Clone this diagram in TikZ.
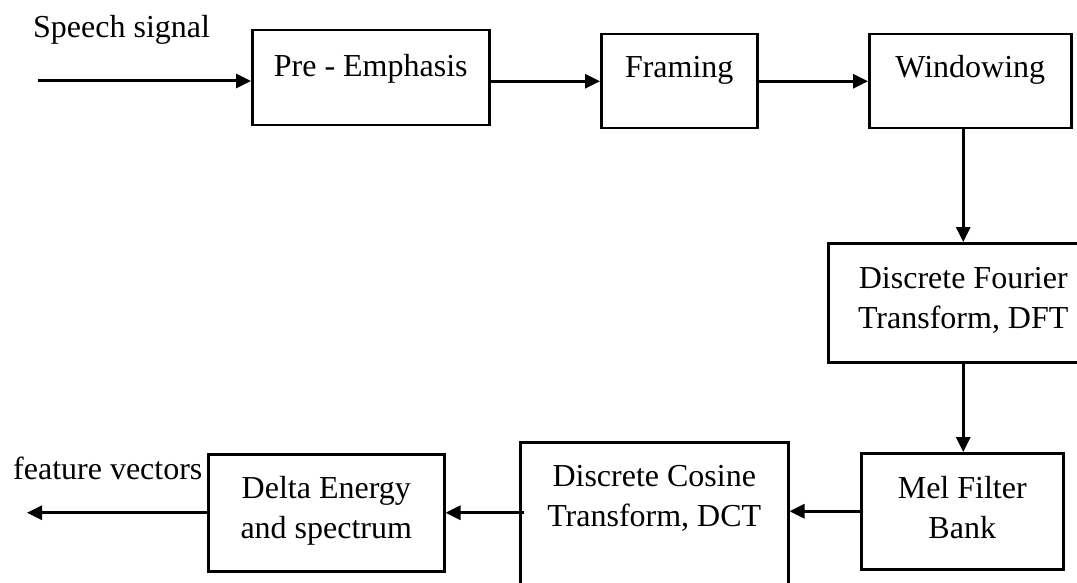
\documentclass[tikz,border=0pt]{standalone}
\usepackage{fontspec}
\setmainfont{Liberation Serif}
\usetikzlibrary{arrows.meta,positioning}

\begin{document}
\begin{tikzpicture}[x=1pt, y=-1pt,
      >={Triangle[length=15pt, width=14pt]},
      every node/.append style={align=center, font=\fontsize{32}{40}\selectfont},
      blk/.style={draw, line width=2.5pt, inner sep=0pt, anchor=north west},
      arr/.style={->, line width=3pt}]

     \useasboundingbox (0,0) rectangle (1077,583);

     % top row
     \node [blk, minimum width=237pt, text height=46pt, text depth=49pt] (pre) at (251,29)  {Pre - Emphasis};
     \node [blk, minimum width=156pt, text height=43pt, text depth=51pt] (frm) at (600,33)  {Framing};
     \node [blk, minimum width=202pt, text height=43pt, text depth=51pt] (win) at (868,33)  {Windowing};
     % right column
     \node [blk, minimum width=270pt, text height=85pt, text depth=34pt] (dft) at (827,242) {Discrete Fourier\\Transform, DFT};
     \node [blk, minimum width=202pt, text height=85pt, text depth=31pt] (mel) at (860,452) {Mel Filter\\Bank};
     % bottom row
     \node [blk, minimum width=268pt, text height=84pt, text depth=65pt] (dct) at (519,441) {Discrete Cosine\\Transform, DCT};
     \node [blk, minimum width=236pt, text height=84pt, text depth=33pt] (del) at (207,453) {Delta Energy\\and spectrum};

     \node [anchor=base west, inner sep=0pt] (spl) at (33,38)  {Speech signal};
     \node [anchor=base west, inner sep=0pt] (fvl) at (13,479) {feature vectors};

     \coordinate (in)  at (38,81);
     \coordinate (out) at (27,511);

     \draw[arr] (in) -- (in -| pre.west);
     \draw[arr] (pre.east |- frm.west) -- (frm.west);
     \draw[arr] (frm.east) -- (win.west);
     \draw[arr] (win.south -| dft.north) -- (dft.north);
     \draw[arr] (dft.south) -- (dft.south |- mel.north);
     \draw[arr] (mel.west) -- (mel.west -| dct.east);
     \draw[arr] ([xshift=5pt]dct.west |- del.east) -- (del.east);
     \draw[arr] (del.west) -- (del.west -| out);
  \end{tikzpicture}
\end{document}
